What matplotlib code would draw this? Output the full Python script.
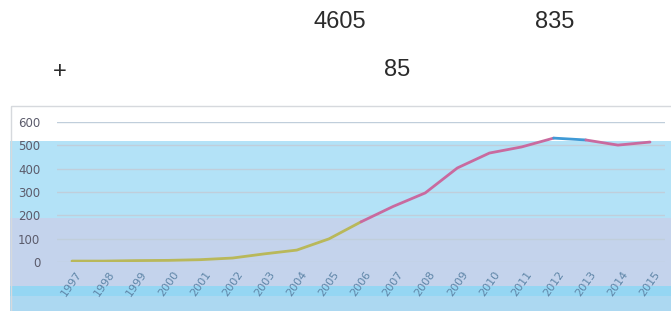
import matplotlib
matplotlib.use("Agg")
import matplotlib.pyplot as plt
from matplotlib.patches import Rectangle

years = [str(y) for y in range(1997, 2016)]
values = [4, 4, 6, 7, 10, 17, 35, 51, 99, 172, 238, 296, 403, 467, 493, 531, 523, 501, 514]
yticks = [0, 100, 200, 300, 400, 500, 600]
seg_colors = ["#b9b85a", "#c96a9f", "#3f9ad6", "#c96a9f"]
seg_breaks = [0, 9, 15, 16, 18]  # index boundaries of the coloured pieces

header_texts = [("4605", 340, 22), ("835", 555, 22), ("+", 60, 72), ("85", 397, 70)]

W, H = 671, 311
fig = plt.figure(figsize=(W / 100, H / 100), dpi=100)
fig.patch.set_facecolor("white")

bg = fig.add_axes([0, 0, 1, 1], zorder=0)
bg.set_xlim(0, W)
bg.set_ylim(H, 0)
bg.axis("off")

def prect(x0, y0, x1, y1, **kw):
    bg.add_patch(Rectangle((x0, y0), x1 - x0, y1 - y0, **kw))

# background bands
prect(10, 141, W, 218, facecolor="#b3e2f7", edgecolor="none")
prect(10, 218, W, 286, facecolor="#c4d3ec", edgecolor="none")
prect(10, 286, W, 296, facecolor="#95d6f3", edgecolor="none")
prect(10, 296, W, H, facecolor="#acd8f1", edgecolor="none")
prect(10.5, 105.5, W + 5, H + 5, facecolor="none", edgecolor="#d6d9dd", lw=1.0)

for txt, x, y in header_texts:
    bg.text(x, y, txt, ha="center", va="center", fontsize=17,
            color="#2b2b2b", family="Liberation Sans")

ax = fig.add_axes([57 / W, 49 / H, 608 / W, 140 / H], zorder=2)
ax.set_facecolor("none")
x = list(range(len(years)))
for i, c in enumerate(seg_colors):
    a, b = seg_breaks[i], seg_breaks[i + 1]
    ax.plot(x[a:b + 1], values[a:b + 1], color=c, lw=2.0, solid_capstyle="round", zorder=3)

ax.set_xlim(-0.467, len(years) - 1 + 0.467)
ax.set_ylim(0, 600)
ax.set_yticks(yticks)
ax.set_yticklabels([str(v) for v in yticks], fontsize=8.5, color="#5b5b6b")
ax.set_xticks(x)
ax.set_xticklabels(years, rotation=55, fontsize=8, color="#5f86a8",
                   ha="center", va="top")
ax.tick_params(axis="y", length=0, pad=12)
ax.tick_params(axis="x", length=0, pad=5)
ax.grid(axis="y", color="#c0cedb", lw=1.0)
ax.set_axisbelow(True)
for s in ax.spines.values():
    s.set_visible(False)

fig.savefig("out.png", dpi=100)
